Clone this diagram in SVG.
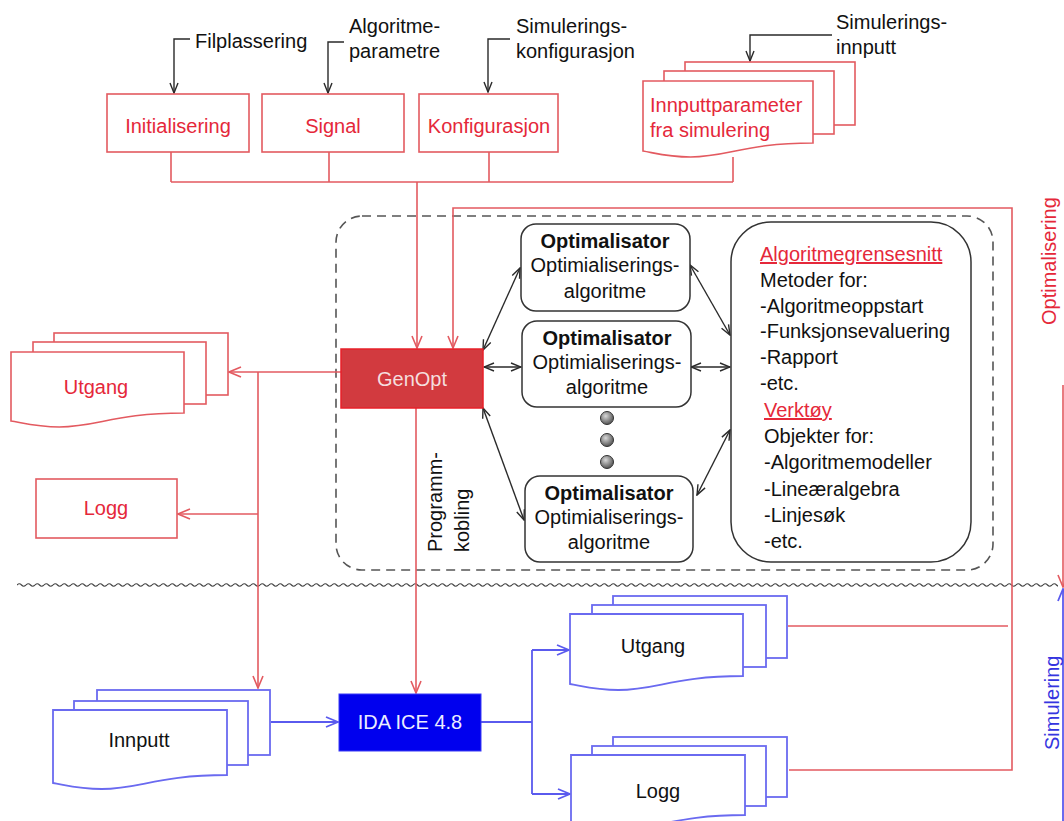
<svg xmlns="http://www.w3.org/2000/svg" width="1064" height="821" viewBox="0 0 1064 821">
<defs>
<style>
text{font-family:"Liberation Sans",Arial,sans-serif;font-size:20px}
.rb{fill:#fff;stroke:#e35a60;stroke-width:1.6}
.bb{fill:#fff;stroke:#6a6af0;stroke-width:1.8}
.rt{fill:#e5283a}
.kt{fill:#111}
.bt{fill:#3535e0}
.rl{fill:none;stroke:#e35a60;stroke-width:1.6}
.bl{fill:none;stroke:#5a5aee;stroke-width:1.8}
.kl{fill:none;stroke:#2a2a2a;stroke-width:1.4}
.ob{fill:#fff;stroke:#333;stroke-width:1.5}
.b{font-weight:bold}
.u{text-decoration:underline}
</style>
<marker id="arR" viewBox="0 0 14 12" refX="13" refY="6" markerWidth="14" markerHeight="12" markerUnits="userSpaceOnUse" orient="auto-start-reverse"><path d="M1,1 L13,6 L1,11" fill="none" stroke="#e35a60" stroke-width="1.6"/></marker>
<marker id="arB" viewBox="0 0 14 12" refX="13" refY="6" markerWidth="14" markerHeight="12" markerUnits="userSpaceOnUse" orient="auto-start-reverse"><path d="M1,1 L13,6 L1,11" fill="none" stroke="#5a5aee" stroke-width="1.8"/></marker>
<marker id="arK" viewBox="0 0 12 10" refX="11" refY="5" markerWidth="12" markerHeight="10" markerUnits="userSpaceOnUse" orient="auto-start-reverse"><path d="M1,1 L11,5 L1,9" fill="none" stroke="#2a2a2a" stroke-width="1.4"/></marker>
<pattern id="wave" x="17" y="582" width="9" height="6" patternUnits="userSpaceOnUse"><path d="M0,3 Q2.25,0.5 4.5,3 T9,3" fill="none" stroke="#444" stroke-width="1.2"/></pattern>
<radialGradient id="dot" cx="0.4" cy="0.35" r="0.7"><stop offset="0" stop-color="#d8d8d8"/><stop offset="1" stop-color="#4a4a4a"/></radialGradient>
</defs>
<rect width="1064" height="821" fill="#fff"/>

<!-- container -->
<g id="container">
<rect x="336" y="216" width="657" height="354" rx="26" fill="none" stroke="#555" stroke-width="1.6" stroke-dasharray="9 6"/>
</g>

<!-- wave separator -->
<rect x="17" y="582" width="1041" height="6" fill="url(#wave)"/>

<!-- connectors -->
<g id="connectors">
<path class="rl" d="M171,152 V182 M329,152 V182 M489,152 V182 M733,157 V182 M171,182 H733"/>
<path class="rl" d="M417,182 V348" marker-end="url(#arR)"/>
<path class="rl" d="M453,348 V208 H1012 V770 H789" marker-start="url(#arR)"/>
<path class="rl" d="M1008,626 H788"/>
<path class="rl" d="M341,372 H229" marker-end="url(#arR)"/>
<path class="rl" d="M258,372 V688" marker-end="url(#arR)"/>
<path class="rl" d="M258,514 H178" marker-end="url(#arR)"/>
<path class="rl" d="M416,408 V693" marker-end="url(#arR)"/>
<path class="bl" d="M271,722 H338" marker-end="url(#arB)"/>
<path class="bl" d="M481,722 H532 M532,650 V794"/>
<path class="bl" d="M532,650 H569" marker-end="url(#arB)"/>
<path class="bl" d="M532,794 H570" marker-end="url(#arB)"/>
<path class="kl" d="M483,350 L520,268" marker-start="url(#arK)" marker-end="url(#arK)"/>
<path class="kl" d="M484,367 L521,367" marker-start="url(#arK)" marker-end="url(#arK)"/>
<path class="kl" d="M483,408 L524,520" marker-start="url(#arK)" marker-end="url(#arK)"/>
<path class="kl" d="M690,265 L730,335" marker-start="url(#arK)" marker-end="url(#arK)"/>
<path class="kl" d="M691,367 L730,367" marker-start="url(#arK)" marker-end="url(#arK)"/>
<path class="kl" d="M697,495 L730,430" marker-start="url(#arK)" marker-end="url(#arK)"/>
<path class="kl" d="M190,39 H174 V93" marker-end="url(#arK)"/>
<path class="kl" d="M344,42 H328 V93" marker-end="url(#arK)"/>
<path class="kl" d="M510,39 H488 V92" marker-end="url(#arK)"/>
<path class="kl" d="M832,35 H750 V61" marker-end="url(#arK)"/>
<path class="rl" d="M1063,385 V587" marker-end="url(#arR)"/>
<path class="bl" d="M1063,821 V589" marker-end="url(#arB)"/>
</g>

<!-- top labels -->
<g id="labels">
<text class="kt" x="195" y="48">Filplassering</text>
<text class="kt" x="349" y="33">Algoritme-</text>
<text class="kt" x="349" y="58">parametre</text>
<text class="kt" x="516" y="33">Simulerings-</text>
<text class="kt" x="516" y="58">konfigurasjon</text>
<text class="kt" x="836" y="29">Simulerings-</text>
<text class="kt" x="836" y="54">innputt</text>
<text class="kt" transform="translate(442,552) rotate(-90)">Programm-</text>
<text class="kt" transform="translate(469,552) rotate(-90)">kobling</text>
<text class="rt" transform="translate(1056,325) rotate(-90)">Optimalisering</text>
<text class="bt" transform="translate(1059,750) rotate(-90)">Simulering</text>
</g>

<g id="initialisering">
<rect class="rb" x="107" y="94" width="142" height="58"/>
<text class="rt" x="178" y="133" text-anchor="middle">Initialisering</text>
</g>
<g id="signal">
<rect class="rb" x="262" y="94" width="142" height="58"/>
<text class="rt" x="333" y="133" text-anchor="middle">Signal</text>
</g>
<g id="konfigurasjon">
<rect class="rb" x="419" y="94" width="139" height="58"/>
<text class="rt" x="489" y="133" text-anchor="middle">Konfigurasjon</text>
</g>
<g id="innputtparameter">
<rect class="rb" x="685" y="62" width="170" height="63"/>
<rect class="rb" x="664" y="71" width="170" height="63"/>
<path class="rb" d="M643,81 H813 V143 C745,143 728,157 690.6,157 C668.5,157 654.9,153 643,151 Z"/>
<text class="rt" x="650" y="112">Innputtparameter</text>
<text class="rt" x="650" y="137">fra simulering</text>
</g>

<g id="genopt">
<rect x="341" y="349" width="142" height="59" fill="#d23a3f" stroke="#e8202a" stroke-width="1.5"/>
<text x="412" y="386" text-anchor="middle" fill="#f5dede">GenOpt</text>
</g>

<g id="opt1">
<rect class="ob" x="521" y="224" width="169" height="87" rx="15"/>
<text class="kt b" x="605" y="248" text-anchor="middle">Optimalisator</text>
<text class="kt" x="605" y="272" text-anchor="middle">Optimialiserings-</text>
<text class="kt" x="605" y="298" text-anchor="middle">algoritme</text>
</g>
<g id="opt2">
<rect class="ob" x="522" y="321" width="169" height="86" rx="15"/>
<text class="kt b" x="607" y="345" text-anchor="middle">Optimalisator</text>
<text class="kt" x="607" y="369" text-anchor="middle">Optimialiserings-</text>
<text class="kt" x="607" y="394" text-anchor="middle">algoritme</text>
</g>
<g id="dots">
<circle cx="607" cy="418" r="6.5" fill="url(#dot)" stroke="#333" stroke-width="1"/>
<circle cx="607" cy="440" r="6.5" fill="url(#dot)" stroke="#333" stroke-width="1"/>
<circle cx="607" cy="462" r="6.5" fill="url(#dot)" stroke="#333" stroke-width="1"/>
</g>
<g id="opt3">
<rect class="ob" x="525" y="476" width="168" height="86" rx="15"/>
<text class="kt b" x="609" y="500" text-anchor="middle">Optimalisator</text>
<text class="kt" x="609" y="524" text-anchor="middle">Optimialiserings-</text>
<text class="kt" x="609" y="549" text-anchor="middle">algoritme</text>
</g>

<g id="grensesnitt">
<rect class="ob" x="731" y="222" width="240" height="340" rx="40"/>
<text class="rt u" x="760" y="261">Algoritmegrensesnitt</text>
<text class="kt" x="760" y="287">Metoder for:</text>
<text class="kt" x="760" y="313">-Algoritmeoppstart</text>
<text class="kt" x="760" y="338">-Funksjonsevaluering</text>
<text class="kt" x="760" y="364">-Rapport</text>
<text class="kt" x="760" y="390">-etc.</text>
<text class="rt u" x="764" y="417">Verktøy</text>
<text class="kt" x="764" y="443">Objekter for:</text>
<text class="kt" x="764" y="469">-Algoritmemodeller</text>
<text class="kt" x="764" y="496">-Lineæralgebra</text>
<text class="kt" x="764" y="522">-Linjesøk</text>
<text class="kt" x="764" y="548">-etc.</text>
</g>

<g id="utgang-opt">
<rect class="rb" x="54" y="333" width="174" height="62"/>
<rect class="rb" x="33" y="342" width="173" height="62"/>
<path class="rb" d="M11,352 H184 V413 C114.8,413 97.5,427 59.4,427 C37,427 23,423 11,421 Z"/>
<text class="rt" x="96" y="394" text-anchor="middle">Utgang</text>
</g>
<g id="logg-opt">
<rect class="rb" x="36" y="479" width="141" height="59"/>
<text class="rt" x="106" y="515" text-anchor="middle">Logg</text>
</g>

<g id="innputt">
<rect class="bb" x="97" y="690" width="173" height="65"/>
<rect class="bb" x="74" y="701" width="174" height="64"/>
<path class="bb" d="M53,710 H227 V775 C157.4,775 140,789 101.7,789 C79.1,789 65.2,785 53,783 Z"/>
<text class="kt" x="139" y="747" text-anchor="middle">Innputt</text>
</g>
<g id="idaice">
<rect x="339" y="694" width="142" height="57" fill="#0000ee" stroke="#3a3af5" stroke-width="1"/>
<text x="410" y="729" text-anchor="middle" fill="#ececff">IDA ICE 4.8</text>
</g>
<g id="utgang-sim">
<rect class="bb" x="613" y="596" width="174" height="62"/>
<rect class="bb" x="592" y="605" width="174" height="62"/>
<path class="bb" d="M570,614 H743 V676 C673.8,676 656.5,690 618.4,690 C596,690 582.1,686 570,684 Z"/>
<text class="kt" x="653" y="653" text-anchor="middle">Utgang</text>
</g>
<g id="logg-sim">
<rect class="bb" x="613" y="737" width="174" height="60"/>
<rect class="bb" x="592" y="746" width="174" height="60"/>
<path class="bb" d="M571,755 H745 V815 C675.4,815 658,829 619.7,829 C597.1,829 583.2,825 571,823 Z"/>
<text class="kt" x="658" y="798" text-anchor="middle">Logg</text>
</g>
</svg>
